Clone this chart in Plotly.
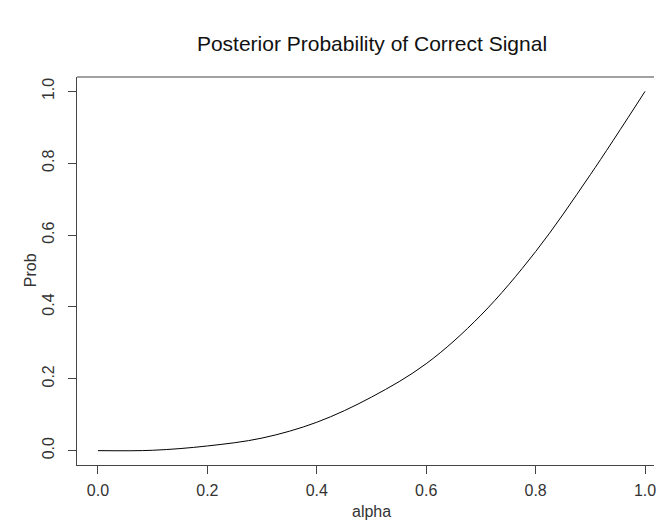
import plotly.graph_objects as go

alpha = [0.0, 0.1, 0.2, 0.3, 0.4, 0.5, 0.6, 0.7, 0.8, 0.9, 1.0]
prob = [0.0, 0.001, 0.013, 0.035, 0.079, 0.149, 0.242, 0.377, 0.554, 0.768, 1.0]
tick_vals = [0.0, 0.2, 0.4, 0.6, 0.8, 1.0]
tick_text = ["0.0", "0.2", "0.4", "0.6", "0.8", "1.0"]

W, H = 656, 523
L, R, T, B = 77, 0, 77, 58
PW, PH = W - L - R, H - T - B
FONT = "Liberation Sans, Arial, sans-serif"
TXT = "#333333"
AX = "#444444"

fig = go.Figure()
fig.add_trace(go.Scatter(x=alpha, y=prob, mode="lines",
                         line=dict(color="black", width=1, shape="spline", smoothing=1.0),
                         hoverinfo="x+y", showlegend=False))

fig.update_layout(
    width=W, height=H,
    margin=dict(l=L, r=R, t=T, b=B, pad=0),
    paper_bgcolor="white", plot_bgcolor="white",
    font=dict(family=FONT, color=TXT, size=16),
    title=dict(text="Posterior Probability of Correct Signal",
               font=dict(family=FONT, size=21, color="#111111"),
               x=(373 - L) / PW, xref="paper", xanchor="center",
               y=1 - 44 / H, yref="container", yanchor="middle"),
    xaxis=dict(range=[-0.0383, 1.0164], tickvals=tick_vals, ticktext=tick_text,
               showgrid=False, zeroline=False, showline=True, linecolor=AX, linewidth=1,
               ticks="outside", ticklen=8, tickcolor=AX, tickwidth=1,
               ticklabelstandoff=3, ticklabeloverflow="allow",
               tickfont=dict(size=16, color=TXT)),
    yaxis=dict(range=[-0.04, 1.04], tickvals=tick_vals, ticktext=tick_text,
               showgrid=False, zeroline=False, showline=True, linecolor=AX, linewidth=1,
               ticks="outside", ticklen=8, tickcolor=AX, tickwidth=1, tickangle=-90,
               ticklabelstandoff=8,
               tickfont=dict(size=16, color=TXT)),
    annotations=[
        dict(text="alpha", xref="paper", yref="paper",
             x=(373 - L) / PW, y=-(511 - (H - B)) / PH,
             xanchor="center", yanchor="middle", showarrow=False,
             font=dict(size=16, color=TXT)),
        dict(text="Prob", xref="paper", yref="paper",
             x=(30 - L) / PW, y=(H - B - 270) / PH, textangle=-90,
             xanchor="center", yanchor="middle", showarrow=False,
             font=dict(size=16, color=TXT)),
    ],
)
fig.add_shape(type="line", xref="paper", yref="paper", x0=0, x1=1, y0=1, y1=1,
              line=dict(color=AX, width=1))

fig.write_html("out.html", config={"displayModeBar": False},
               post_script="document.body.style.margin='0';")
